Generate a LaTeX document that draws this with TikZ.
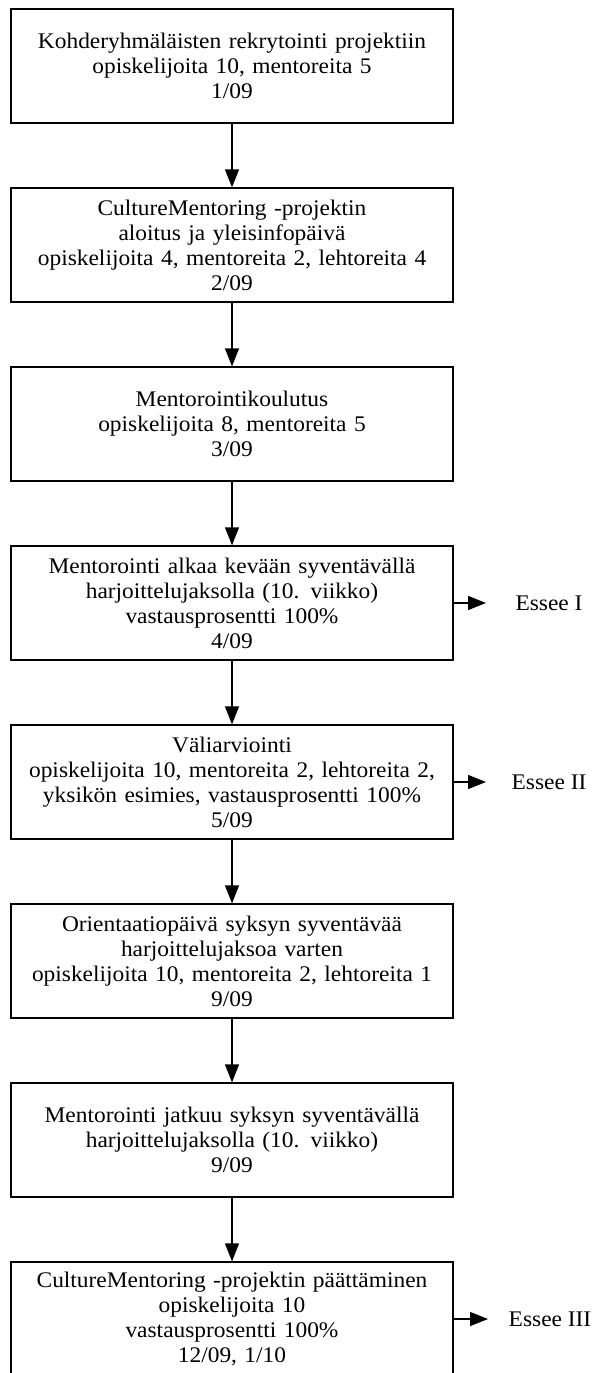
\documentclass[tikz,border=0pt]{standalone}
\usepackage{fontspec}
\setmainfont{Liberation Serif}[FakeStretch=1.05]
\usetikzlibrary{arrows.meta}
\begin{document}
\begin{tikzpicture}[x=1pt,y=1pt,
  stagebox/.style={draw, line width=1.2pt, minimum width=442pt, minimum height=114pt,
    inner sep=0pt, text width=440pt, align=center,
    font=\fontsize{22.3}{25}\selectfont},
  esseelabel/.style={inner sep=0pt, font=\fontsize{22.3}{25}\selectfont},
  flowarrow/.style={line width=1.2pt, -{Triangle[length=18pt,width=14pt]}}]
\useasboundingbox (0,0) rectangle (592,-1373);
\clip (0,0) rectangle (592,-1373);
\node[stagebox] (b1) at (232,-66) {Kohderyhmäläisten rekrytointi projektiin\\opiskelijoita 10, mentoreita 5\\1/09};
\node[stagebox] (b2) at (232,-245) {CultureMentoring -projektin\\aloitus ja yleisinfopäivä\\opiskelijoita 4, mentoreita 2, lehtoreita 4\\2/09};
\node[stagebox] (b3) at (232,-424) {Mentorointikoulutus\\opiskelijoita 8, mentoreita 5\\3/09};
\node[stagebox] (b4) at (232,-603) {Mentorointi alkaa kevään syventävällä\\harjoittelujaksolla (10. viikko)\\vastausprosentti 100\%\\4/09};
\node[stagebox] (b5) at (232,-782) {Väliarviointi\\opiskelijoita 10, mentoreita 2, lehtoreita 2,\\yksikön esimies, vastausprosentti 100\%\\5/09};
\node[stagebox] (b6) at (232,-961) {Orientaatiopäivä syksyn syventävää\\harjoittelujaksoa varten\\opiskelijoita 10, mentoreita 2, lehtoreita 1\\9/09};
\node[stagebox] (b7) at (232,-1140) {Mentorointi jatkuu syksyn syventävällä\\harjoittelujaksolla (10. viikko)\\9/09};
\node[stagebox] (b8) at (232,-1319) {CultureMentoring -projektin päättäminen\\opiskelijoita 10\\vastausprosentti 100\%\\12/09, 1/10};
\foreach \a/\b in {b1/b2,b2/b3,b3/b4,b4/b5,b5/b6,b6/b7,b7/b8}
  \draw[flowarrow] (\a.south) -- (\b.north);
\node[esseelabel] (e1) at (549,-603) {Essee I};
\node[esseelabel] (e2) at (549,-782) {Essee II};
\node[esseelabel] (e3) at (550,-1319) {Essee III};
\coordinate (t1) at (486,-603);
\coordinate (t2) at (486,-782);
\coordinate (t3) at (488,-1319);
\draw[flowarrow] (b4.east) -- (t1);
\draw[flowarrow] (b5.east) -- (t2);
\draw[flowarrow] (b8.east) -- (t3);
\end{tikzpicture}
\end{document}
